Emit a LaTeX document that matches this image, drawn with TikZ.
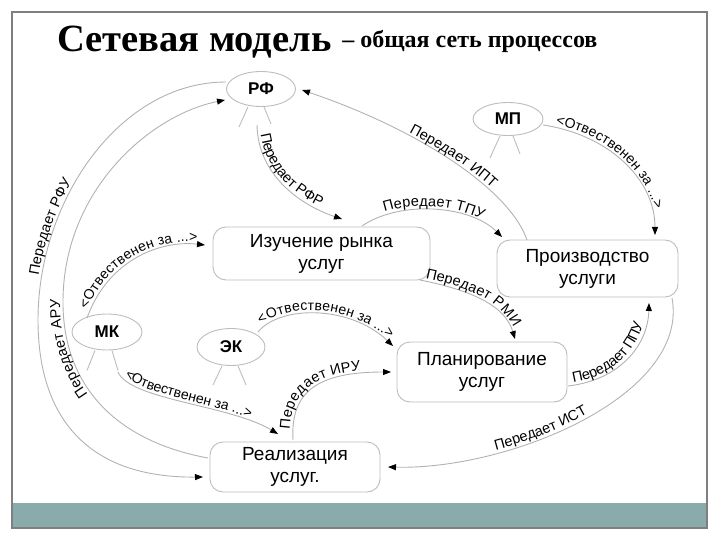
\documentclass[tikz,border=0pt]{standalone}
\usepackage{fontspec}
\setmainfont{Liberation Sans}
\newfontfamily\titlefont{Liberation Serif}
\usetikzlibrary{arrows.meta,shapes.geometric,decorations.text}
\definecolor{linegray}{HTML}{B2B2B2}
\definecolor{boxgray}{HTML}{BDBDBD}
\definecolor{framegray}{HTML}{7F7F7F}
\definecolor{barteal}{HTML}{8AABAB}
\newcommand{\lblf}{\fontsize{14.5}{15}\selectfont}
\newcommand{\otvf}{\fontsize{14}{15}\selectfont}
\newcommand{\boxf}{\fontsize{19}{22}\selectfont}
\tikzset{
  conn/.style={draw=linegray, line width=0.9pt},
  leg/.style={draw=boxgray, line width=0.9pt},
  procbox/.style={draw=boxgray, line width=0.9pt, rounded corners=13pt, fill=white,
    align=center, font=\boxf, inner sep=0pt},
  actor/.style={ellipse, draw=boxgray, line width=0.9pt, fill=white,
    font=\fontsize{17}{17}\selectfont\bfseries, inner sep=0pt},
  lblc/.style={postaction={decorate, decoration={text along path,
    text={|\lblf|#1}, text align=center, raise=3pt}}},
  lbll/.style 2 args={postaction={decorate, decoration={text along path,
    text={|\lblf|#2}, text align={left indent=#1pt}, raise=3pt}}},
  otvc/.style={postaction={decorate, decoration={text along path,
    text={|\otvf|<Отвественен за ...>}, text align=center, raise=3pt}}},
  otvl/.style={postaction={decorate, decoration={text along path,
    text={|\otvf|<Отвественен за ...>}, text align={left indent=#1pt}, raise=3pt}}},
  >={Triangle[length=8pt,width=6pt,color=black]}
}
\begin{document}
\begin{tikzpicture}[x=1pt,y=-1pt]
\useasboundingbox (0,0) rectangle (720,540);
% frame and bar
\fill[barteal] (12,503) rectangle (707,528);
\draw[framegray, line width=1.2pt] (12,528) -- (12,12) -- (707,12) -- (707,528) -- cycle;
% title
\node[anchor=base west, inner sep=0pt] (title) at (57,52)
  {\titlefont\bfseries\fontsize{38.5}{38}\selectfont Сетевая модель\hspace{11pt}\raisebox{4pt}{\fontsize{24}{24}\selectfont – общая сеть процессов}};
% process boxes
\node[procbox, minimum width=217pt, minimum height=53pt] (izu) at (321.5,253.5) {Изучение рынка\\услуг};
\node[procbox, minimum width=181pt, minimum height=57pt] (proizv) at (587.5,268.5) {Производство\\услуги};
\node[procbox, minimum width=170pt, minimum height=60pt] (plan) at (482,372) {Планирование\\услуг};
\node[procbox, minimum width=170pt, minimum height=50pt] (real) at (295,467) {Реализация\\услуг.};
% actors
\node[actor, minimum width=69pt, minimum height=35pt] (rf) at (261,89) {РФ};
\node[actor, minimum width=70pt, minimum height=33pt] (mp) at (508,119) {МП};
\node[actor, minimum width=70pt, minimum height=36pt] (mk) at (107,332) {МК};
\node[actor, minimum width=68pt, minimum height=37pt] (ek) at (231,347) {ЭК};
% legs
\draw[leg] ([xshift=-13pt]rf.south) -- ++(-9,20);
\draw[leg] ([xshift=3pt]rf.south) -- ++(7,17);
\draw[leg] ([xshift=-8pt]mp.south) -- ++(-10,22);
\draw[leg] ([xshift=5pt]mp.south) -- ++(7,18);
\draw[leg] ([xshift=-12pt]mk.south) -- ++(-8,20);
\draw[leg] ([xshift=5pt]mk.south) -- ++(6,20);
\draw[leg] ([xshift=-9pt]ek.south) -- ++(-9,19);
\draw[leg] ([xshift=7pt]ek.south) -- ++(8,19);
% connector end points
\coordinate (rfr-s) at (257,125);
\coordinate (rfr-e) at (342,219);
\coordinate (tpu-s) at (362,226);
\coordinate (tpu-e) at (502,237);
\coordinate (ipt-s) at (302,90);
\coordinate (ipt-e) at (527,240);
\coordinate (rmi-s) at (420,280);
\coordinate (rmi-e) at (515,339);
\coordinate (ppu-s) at (568,386);
\coordinate (ppu-e) at (649,303);
\coordinate (ist-s) at (388,467);
\coordinate (ist-e) at (672,298);
\coordinate (iru-s) at (293,440);
\coordinate (iru-e) at (391,372);
\coordinate (ek-s) at (258,332);
\coordinate (ek-e) at (393,346);
\coordinate (mkr-s) at (118,372);
\coordinate (mkr-e) at (278,434);
\coordinate (mki-s) at (87,318);
\coordinate (mki-e) at (205,245);
\coordinate (mp-s) at (543,125);
\coordinate (mp-e) at (655,235);
\coordinate (rfu-s) at (203,477);
\coordinate (rfu-e) at (226,82);
\coordinate (aru-s) at (208,458);
\coordinate (aru-e) at (225,100);
% connectors
\draw[conn,->,lbll={10}{Передает РФР}] (rfr-s) .. controls (258,175) and (300,205) .. (rfr-e);
\draw[conn,->,lblc={Передает ТПУ}] (tpu-s) .. controls (400,200) and (470,205) .. (tpu-e);
\draw[conn,<-,lbll={115}{Передает  ИПТ}] (ipt-s) .. controls (420,130) and (510,190) .. (ipt-e);
\draw[conn,->,lbll={5}{Передает РМИ}] (rmi-s) .. controls (470,290) and (505,305) .. (rmi-e);
\draw[conn,->,lbll={6}{Передает ППУ}] (ppu-s) .. controls (620,380) and (648,345) .. (ppu-e);
\draw[conn,<-,lbll={110}{Передает ИСТ}] (ist-s) .. controls (510,470) and (690,395) .. (ist-e);
\draw[conn,->,lbll={10}{Передает ИРУ}] (iru-s) .. controls (290,390) and (320,372) .. (iru-e);
\draw[conn,->,otvc] (ek-s) .. controls (280,305) and (350,305) .. (ek-e);
\draw[conn,->,otvl=8] (mkr-s) .. controls (130,400) and (230,405) .. (mkr-e);
\draw[conn,->,otvc] (mki-s) .. controls (108,260) and (160,240) .. (mki-e);
\draw[conn,->,otvl=12] (mp-s) .. controls (610,135) and (655,180) .. (mp-e);
\draw[conn,<-,lbll={305}{Передает РФУ}] (rfu-s) .. controls (90,478) and (38,420) .. (38,320)
   .. controls (38,200) and (120,82) .. (rfu-e);
\draw[conn,->,lbll={138}{Передает АРУ}] (aru-s) .. controls (110,440) and (62,380) .. (63,300)
   .. controls (64,190) and (150,115) .. (aru-e);
\end{tikzpicture}
\end{document}
